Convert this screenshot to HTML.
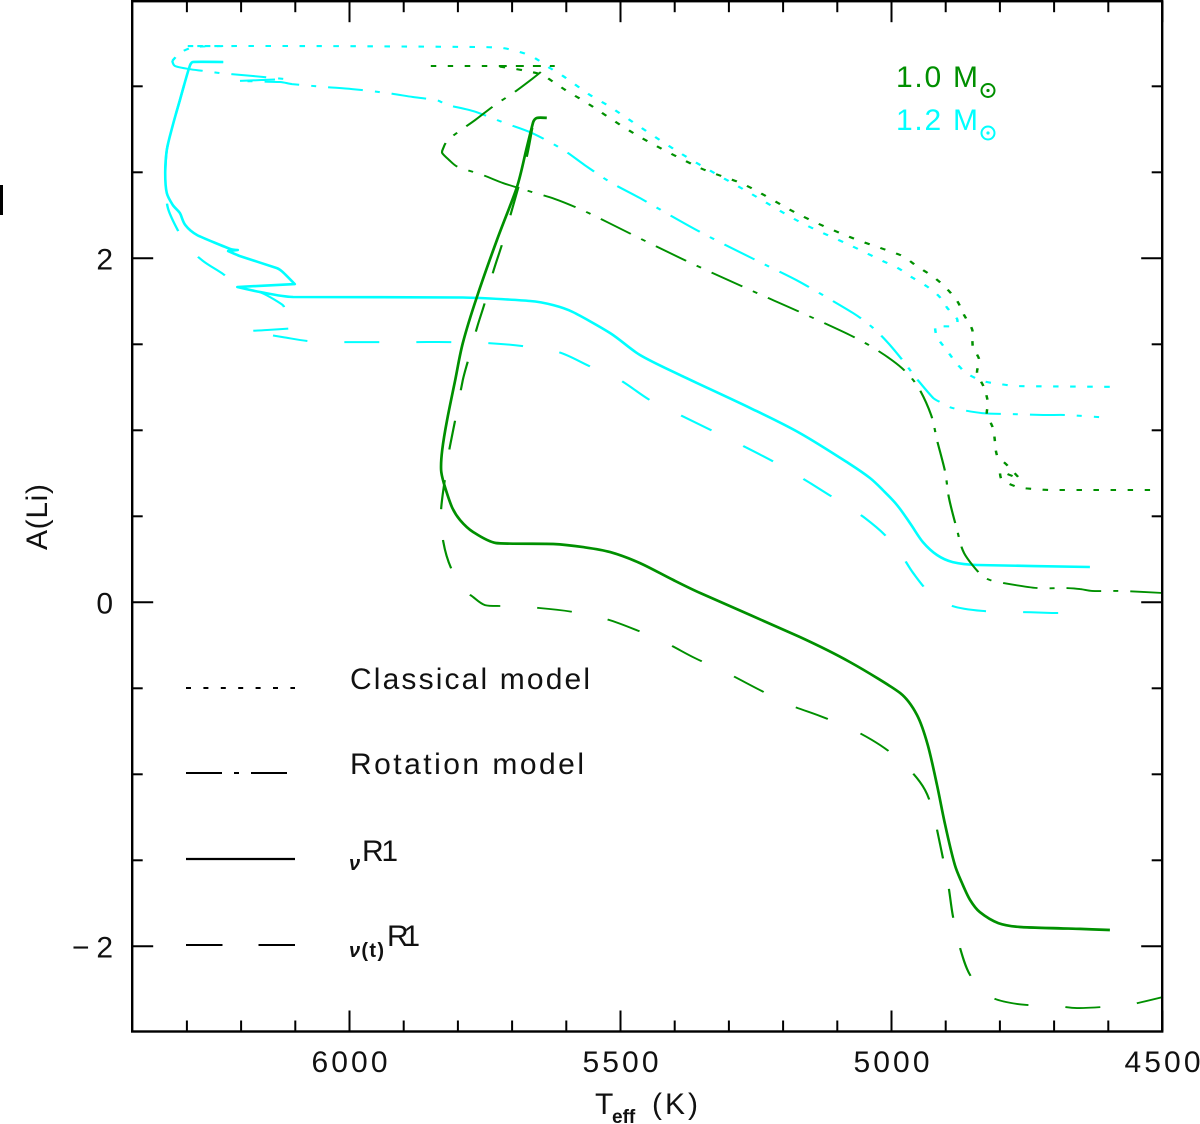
<!DOCTYPE html>
<html lang="en">
<head>
<meta charset="utf-8">
<title>A(Li) versus effective temperature</title>
<style>
html,body{margin:0;padding:0;background:#fff;}
svg{display:block;}
text{font-family:"Liberation Sans",sans-serif;font-size:30px;fill:#111;}
</style>
</head>
<body>
<svg id="chart" xmlns="http://www.w3.org/2000/svg" width="1200" height="1124" viewBox="0 0 1200 1124">
  <rect x="0" y="0" width="1200" height="1124" fill="#fff"/>
  <rect x="0" y="185" width="3" height="30" fill="#000"/>
  <g id="series-layer"></g>
  <g id="tick-layer"></g>
  <rect x="132.2" y="1.2" width="1030" height="1030.3" fill="none" stroke="#000" stroke-width="2.4"/>
  <g id="label-layer"></g>

  <text transform="translate(47,550) rotate(-90)" textLength="66" lengthAdjust="spacing">A(Li)</text>
  <g>
    <text x="595" y="1114">T</text>
    <text x="612" y="1123" style="font-size:19px;font-weight:bold;">eff</text>
    <text x="652" y="1114" textLength="46" lengthAdjust="spacing">(K)</text>
  </g>

  <g>
    <text x="896" y="87" textLength="82" lengthAdjust="spacing" style="fill:#008f00;">1.0 M</text>
    <circle cx="988" cy="90.5" r="6.5" fill="none" stroke="#008f00" stroke-width="2"/>
    <circle cx="988" cy="90.5" r="1.6" fill="#008f00"/>
    <text x="896" y="130" textLength="82" lengthAdjust="spacing" style="fill:#00ffff;">1.2 M</text>
    <circle cx="988" cy="133" r="6.5" fill="none" stroke="#00ffff" stroke-width="2"/>
    <circle cx="988" cy="133" r="1.6" fill="#00ffff"/>
  </g>

  <g>
    <line x1="186" y1="688" x2="295" y2="688" stroke="#000" stroke-width="2" stroke-dasharray="5 12.4"/>
    <text x="350" y="689" textLength="240" lengthAdjust="spacing">Classical model</text>
    <line x1="186" y1="773" x2="287" y2="773" stroke="#000" stroke-width="2" stroke-dasharray="36 12 5 12"/>
    <text x="350" y="774" textLength="234" lengthAdjust="spacing">Rotation model</text>
    <line x1="186" y1="859" x2="295" y2="859" stroke="#000" stroke-width="2.2"/>
    <text x="349" y="870" style="font-size:20px;font-weight:bold;font-style:italic;">ν</text>
    <text x="362" y="861" textLength="36" lengthAdjust="spacing">R1</text>
    <line x1="186" y1="945" x2="295" y2="945" stroke="#000" stroke-width="2" stroke-dasharray="36.5 36"/>
    <text x="349" y="957" textLength="35" lengthAdjust="spacing" style="font-size:20px;font-weight:bold;"><tspan style="font-style:italic;">ν</tspan>(t)</text>
    <text x="387" y="946" textLength="33" lengthAdjust="spacing">R1</text>
  </g>
</svg>
<script>
// Tick values
const xMajorTicks = [6000, 5500, 5000, 4500];
const xMinorTicks = [6300, 6200, 6100, 5900, 5800, 5700, 5600, 5400, 5300, 5200, 5100, 4900, 4800, 4700, 4600];
const yMajorTicks = [2, 0, -2];
const yMinorTicks = [3, 2.5, 1.5, 1, 0.5, -0.5, -1, -1.5];
const xTickLabels = ["6000", "5500", "5000", "4500"];
const yTickLabels = ["2", "0", "−2"];

// 1.0 Msun, classical model
const teffGreenClassical = [5850,5623,5732,5704,5673,5645,5621,5599,5577,5553,5464,5353,5270,5169,5077,4984,4951,4925,4901,4879,4866,4851,4850,4838,4842,4829,4822,4824,4813,4809,4807,4802,4791,4780,4763,4800,4796,4767,4739,4707,4510];
const aliGreenClassical = [3.118,3.118,3.118,3.106,3.089,3.066,3.019,2.973,2.932,2.885,2.705,2.525,2.426,2.252,2.124,2.019,1.949,1.897,1.833,1.752,1.670,1.583,1.490,1.409,1.333,1.246,1.159,1.095,1.013,0.932,0.874,0.833,0.810,0.775,0.717,0.763,0.711,0.670,0.659,0.653,0.653];

// 1.0 Msun, rotation model
const teffGreenRotation = [5647,5661,5698,5732,5768,5800,5820,5827,5829,5816,5800,5754,5717,5663,5621,5571,5525,5390,5261,5169,5077,5027,4981,4951,4927,4916,4901,4894,4879,4866,4835,4818,4794,4732,4680,4652,4630,4588,4573,4499];
const aliGreenRotation = [3.083,3.048,2.961,2.891,2.804,2.734,2.682,2.641,2.612,2.571,2.531,2.484,2.438,2.385,2.345,2.281,2.211,2.002,1.816,1.688,1.554,1.467,1.362,1.252,1.089,0.943,0.757,0.606,0.420,0.286,0.159,0.129,0.112,0.083,0.083,0.077,0.066,0.066,0.066,0.054];

// 1.0 Msun, nuR1
const teffGreenNu = [5636,5654,5661,5674,5691,5728,5765,5791,5805,5820,5829,5831,5826,5811,5796,5772,5730,5624,5569,5519,5464,5403,5353,5169,5077,4984,4953,4933,4916,4901,4883,4870,4855,4837,4803,4763,4652,4597];
const aliGreenNu = [2.816,2.816,2.792,2.630,2.415,2.106,1.775,1.507,1.292,1.060,0.885,0.769,0.693,0.554,0.478,0.409,0.345,0.339,0.321,0.292,0.228,0.130,0.054,-0.202,-0.347,-0.528,-0.655,-0.830,-1.062,-1.295,-1.528,-1.632,-1.731,-1.801,-1.865,-1.888,-1.899,-1.905];

// 1.0 Msun, nu(t)R1
const teffGreenNuT = [5639,5660,5673,5704,5719,5735,5750,5765,5780,5791,5805,5815,5820,5831,5827,5811,5783,5772,5750,5715,5650,5588,5527,5471,5416,5363,5307,5243,5187,5132,5077,5021,4975,4938,4920,4896,4887,4874,4855,4820,4767,4698,4658,4610,4582,4554,4499];
const aliGreenNuT = [2.816,2.792,2.589,2.240,2.077,1.920,1.746,1.595,1.420,1.292,1.060,0.903,0.798,0.538,0.352,0.188,0.060,0.031,-0.016,-0.022,-0.033,-0.056,-0.097,-0.161,-0.236,-0.324,-0.405,-0.510,-0.597,-0.661,-0.731,-0.830,-0.946,-1.092,-1.266,-1.632,-1.818,-2.004,-2.167,-2.289,-2.336,-2.347,-2.359,-2.353,-2.347,-2.336,-2.295];

// 1.2 Msun, classical model
const teffCyanClassical = [6327,6313,6294,6276,6235,6300,6054,5754,5717,5685,5661,5630,5606,5556,5519,5390,5261,5169,5077,5016,4988,4960,4933,4911,4897,4879,4883,4920,4916,4897,4879,4859,4831,4800,4768,4578];
const aliCyanClassical = [3.147,3.193,3.222,3.231,3.234,3.234,3.234,3.228,3.222,3.199,3.170,3.106,3.060,2.949,2.880,2.612,2.379,2.211,2.077,1.984,1.943,1.885,1.833,1.775,1.711,1.647,1.606,1.606,1.542,1.461,1.385,1.327,1.286,1.269,1.257,1.252];

// 1.2 Msun, rotation model
const teffCyanRotation = [6327,6322,6296,6268,6239,6178,6119,6206,6128,6106,6045,5995,5931,5883,5839,5820,5772,5713,5663,5608,5566,5519,5464,5353,5243,5169,5071,5034,5006,4977,4953,4923,4907,4888,4833,4783,4720,4678,4617];
const aliCyanRotation = [3.147,3.118,3.100,3.089,3.077,3.060,3.042,3.031,3.025,3.013,2.996,2.984,2.961,2.938,2.920,2.891,2.856,2.786,2.728,2.635,2.542,2.443,2.350,2.153,1.978,1.862,1.682,1.595,1.507,1.397,1.298,1.188,1.159,1.130,1.100,1.095,1.089,1.089,1.077];

// 1.2 Msun, nuR1
const teffCyanNu = [6233,6289,6296,6313,6327,6337,6340,6337,6326,6313,6303,6281,6220,6206,6224,6202,6134,6123,6101,6207,6165,6104,5791,5667,5624,5588,5519,5464,5390,5261,5169,5077,5040,5016,4990,4966,4942,4916,4887,4842,4634];
const aliCyanNu = [3.141,3.141,3.106,2.920,2.763,2.630,2.496,2.379,2.310,2.263,2.193,2.135,2.054,2.048,2.042,2.013,1.943,1.920,1.850,1.833,1.804,1.775,1.772,1.752,1.728,1.688,1.565,1.438,1.321,1.130,0.984,0.804,0.723,0.653,0.566,0.461,0.350,0.275,0.234,0.217,0.205];

// 1.2 Msun, nu(t)R1
const teffCyanNuT = [6233,6289,6296,6313,6327,6337,6340,6340,6335,6316,6300,6270,6233,6202,6161,6123,6119,6106,6097,6152,6193,6123,6077,6012,5947,5877,5815,5744,5682,5615,5558,5501,5446,5390,5326,5270,5206,5150,5077,5049,5012,4984,4960,4929,4888,4833,4767,4704,4680,4639];
const aliCyanNuT = [3.141,3.141,3.106,2.920,2.763,2.630,2.496,2.443,2.292,2.158,2.071,1.984,1.908,1.833,1.798,1.728,1.699,1.641,1.595,1.583,1.577,1.542,1.519,1.513,1.513,1.513,1.513,1.507,1.490,1.455,1.374,1.292,1.176,1.089,0.990,0.903,0.798,0.693,0.548,0.490,0.391,0.286,0.170,0.054,-0.021,-0.050,-0.056,-0.062,-0.062,-0.056];

const SVG_NS = "http://www.w3.org/2000/svg";

function xScale(teff) { return 349.5 + (6000 - teff) * 0.542; }
function yScale(ali) { return 602.3 - ali * 172; }

const GREEN = "#009000";
const CYAN = "#00ffff";
const DOTTED = "5.5 11.5";
const DASH_DOT = "35 12 5 12";
const DASHED = "35 37";
// The original device measures dash lengths with the y axis stretched by this factor.
const DASH_Y_STRETCH = 1.2;

const seriesLayer = document.getElementById("series-layer");
const tickLayer = document.getElementById("tick-layer");
const labelLayer = document.getElementById("label-layer");

function smoothPath(pts) {
  const tangent = function (i) {
    if (i === 0 || i === pts.length - 1) return [0, 0];
    const ax = pts[i][0] - pts[i - 1][0], ay = pts[i][1] - pts[i - 1][1];
    const bx = pts[i + 1][0] - pts[i][0], by = pts[i + 1][1] - pts[i][1];
    if (ax * bx + ay * by <= 0) return [0, 0];
    const la = Math.hypot(ax, ay), lb = Math.hypot(bx, by);
    const cap = Math.min(la, lb) / Math.max(la + lb, 1e-6) * 2;
    return [(ax + bx) / 6 * cap, (ay + by) / 6 * cap];
  };
  let d = "M" + pts[0][0].toFixed(1) + " " + pts[0][1].toFixed(1);
  for (let i = 0; i < pts.length - 1; i++) {
    const t0 = tangent(i), t1 = tangent(i + 1);
    d += "C" + (pts[i][0] + t0[0]).toFixed(1) + " " + (pts[i][1] + t0[1]).toFixed(1) +
         " " + (pts[i + 1][0] - t1[0]).toFixed(1) + " " + (pts[i + 1][1] - t1[1]).toFixed(1) +
         " " + pts[i + 1][0].toFixed(1) + " " + pts[i + 1][1].toFixed(1);
  }
  return d;
}

function drawSeries(teffValues, aliValues, color, dash, width, dashOffset) {
  const el = document.createElementNS(SVG_NS, "path");
  const stretch = dash ? DASH_Y_STRETCH : 1;
  const pts = teffValues.map(function (t, i) {
    return [xScale(t), yScale(aliValues[i]) * stretch];
  });
  el.setAttribute("d", smoothPath(pts));
  el.setAttribute("fill", "none");
  el.setAttribute("stroke", color);
  el.setAttribute("stroke-width", width);
  el.setAttribute("stroke-linejoin", "round");
  if (dash) {
    el.setAttribute("stroke-dasharray", dash);
    el.setAttribute("stroke-dashoffset", dashOffset || 0);
    el.setAttribute("transform", "scale(1," + (1 / stretch) + ")");
  }
  seriesLayer.appendChild(el);
  return el;
}

let s;
s = drawSeries(teffCyanClassical, aliCyanClassical, CYAN, DOTTED, 2.5, 0);


s = drawSeries(teffCyanRotation, aliCyanRotation, CYAN, DASH_DOT, 2.4, 0);


s = drawSeries(teffCyanNuT, aliCyanNuT, CYAN, DASHED, 2.4, 12);


s = drawSeries(teffCyanNu, aliCyanNu, CYAN, null, 2.6, 0);


s = drawSeries(teffGreenClassical, aliGreenClassical, GREEN, DOTTED, 2.5, 0);


s = drawSeries(teffGreenRotation, aliGreenRotation, GREEN, DASH_DOT, 2.2, 0);


s = drawSeries(teffGreenNuT, aliGreenNuT, GREEN, DASHED, 2.2, 52);


s = drawSeries(teffGreenNu, aliGreenNu, GREEN, null, 2.7, 0);



function addTick(x1, y1, x2, y2) {
  const el = document.createElementNS(SVG_NS, "line");
  el.setAttribute("x1", x1);
  el.setAttribute("y1", y1);
  el.setAttribute("x2", x2);
  el.setAttribute("y2", y2);
  el.setAttribute("stroke", "#000");
  el.setAttribute("stroke-width", "2");
  tickLayer.appendChild(el);
  return el;
}

const LEFT = 132.2, RIGHT = 1162.2, TOP = 1.2, BOTTOM = 1031.5;

xMajorTicks.concat(xMinorTicks).forEach(function (v, i) {
  const len = i < xMajorTicks.length ? 21 : 11;
  const x = xScale(v);
  const b = addTick(x, BOTTOM, x, BOTTOM - len);
  
  
  const t = addTick(x, TOP, x, TOP + len);
  
  
});

yMajorTicks.concat(yMinorTicks).forEach(function (v, i) {
  const len = i < yMajorTicks.length ? 21 : 10.5;
  const y = yScale(v);
  const l = addTick(LEFT, y, LEFT + len, y);
  
  
  const r = addTick(RIGHT, y, RIGHT - len, y);
  
  
});

xTickLabels.forEach(function (label, i) {
  const el = document.createElementNS(SVG_NS, "text");
  
  
  el.setAttribute("x", xScale(xMajorTicks[i]));
  el.setAttribute("y", 1072);
  el.setAttribute("text-anchor", "middle");
  el.setAttribute("textLength", "76");
  el.setAttribute("lengthAdjust", "spacing");
  el.textContent = label;
  labelLayer.appendChild(el);
});

yTickLabels.forEach(function (label, i) {
  const el = document.createElementNS(SVG_NS, "text");
  
  
  el.setAttribute("x", 113);
  el.setAttribute("y", yScale(yMajorTicks[i]) + 11);
  el.setAttribute("text-anchor", "end");
  if (label.length > 1) {
    el.setAttribute("textLength", "41");
    el.setAttribute("lengthAdjust", "spacing");
  }
  el.textContent = label;
  labelLayer.appendChild(el);
});
</script>
</body>
</html>
